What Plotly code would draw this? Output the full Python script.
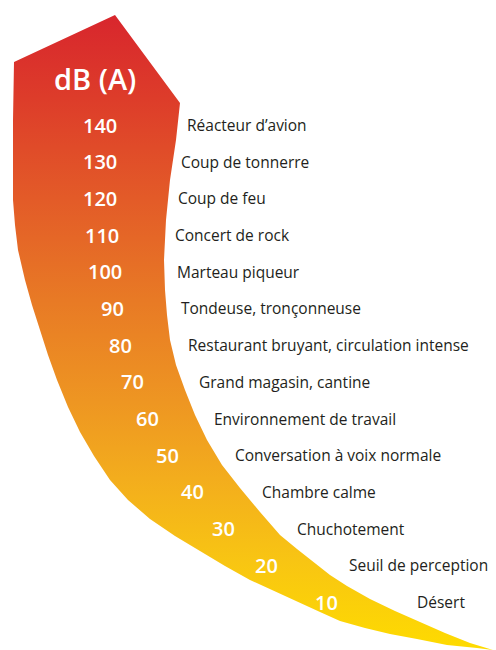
import plotly.graph_objects as go

# noise levels in dB(A) and typical sources
levels = [140, 130, 120, 110, 100, 90, 80, 70, 60, 50, 40, 30, 20, 10]
sources = [
    "Réacteur d’avion",
    "Coup de tonnerre",
    "Coup de feu",
    "Concert de rock",
    "Marteau piqueur",
    "Tondeuse, tronçonneuse",
    "Restaurant bruyant, circulation intense",
    "Grand magasin, cantine",
    "Environnement de travail",
    "Conversation à voix normale",
    "Chambre calme",
    "Chuchotement",
    "Seuil de perception",
    "Désert",
]
unit_title = "dB (A)"

# layout: horizontal placement of the labels along the curve (px)
number_x = [100, 100, 100, 102, 105, 112, 120, 132, 147, 167, 192, 223, 266, 326]
source_x = [187, 181, 178, 175, 177, 181, 188, 199, 214, 235, 262, 297, 349, 417]

# band outline in page pixels (decoration)
band_px = [
    (14, 62), (115, 15), (180, 103), (176, 140), (170, 180), (166, 220),
    (164, 260), (165, 290), (167, 315), (170, 340), (176, 365), (185, 390),
    (195, 415), (207, 440), (222, 465), (240, 488), (260, 512), (280, 535),
    (297, 549), (313, 562), (330, 575), (347, 586), (370, 599), (395, 611),
    (420, 622), (445, 633), (470, 643), (493, 650),
    (477, 648), (447, 645), (417, 639), (390, 634), (365, 628), (340, 621),
    (320, 612), (300, 603), (275, 592), (250, 580), (225, 566), (200, 551),
    (175, 536), (150, 519), (128, 500), (110, 480), (94, 456), (80, 432),
    (68, 407), (57, 380), (48, 355), (40, 330), (32, 305), (25, 280),
    (18, 250), (15, 225), (13, 200), (13, 160), (13, 120), (14, 62),
]

W, H = 496, 650
K = (602 - 125) / 130.0  # px per dB


def px_to_db(py):
    return 140 - (py - 125) / K


fig = go.Figure()

fig.add_trace(go.Scatter(
    x=[p[0] for p in band_px],
    y=[px_to_db(p[1]) for p in band_px],
    mode="lines",
    line=dict(width=0),
    fill="toself",
    fillgradient=dict(
        type="vertical",
        start=px_to_db(650),
        stop=px_to_db(15),
        colorscale=[
            [0.0, "#fedb00"],
            [0.14, "#f8c513"],
            [0.27, "#f3ad1d"],
            [0.39, "#ee9622"],
            [0.55, "#e87a25"],
            [0.71, "#e35b28"],
            [0.87, "#dd3c2a"],
            [1.0, "#d8262d"],
        ],
    ),
    hoverinfo="skip",
    showlegend=False,
))

for lv, src, nx, sx in zip(levels, sources, number_x, source_x):
    fig.add_annotation(
        x=nx, y=lv, text=str(lv), showarrow=False, xanchor="center",
        borderpad=0, borderwidth=0,
        font=dict(family="Open Sans", size=20, color="white", weight=600),
    )
    fig.add_annotation(
        x=sx, y=lv, text=src, showarrow=False, xanchor="left",
        borderpad=0, borderwidth=0,
        font=dict(family="Open Sans", size=15.5, color="#231f20"),
    )

fig.add_annotation(
    x=95, y=px_to_db(78), text=unit_title, showarrow=False,
    borderpad=0, borderwidth=0,
    font=dict(family="Open Sans", size=29, color="white", weight=600),
)

fig.update_layout(
    width=W, height=H,
    margin=dict(l=0, r=0, t=0, b=0),
    paper_bgcolor="white", plot_bgcolor="white",
    xaxis=dict(range=[0, W], visible=False, fixedrange=True),
    yaxis=dict(range=[px_to_db(H), px_to_db(0)], visible=False, fixedrange=True),
)

fig.write_html("out.html", config={"displayModeBar": False},
               post_script="document.body.style.margin='0';")
